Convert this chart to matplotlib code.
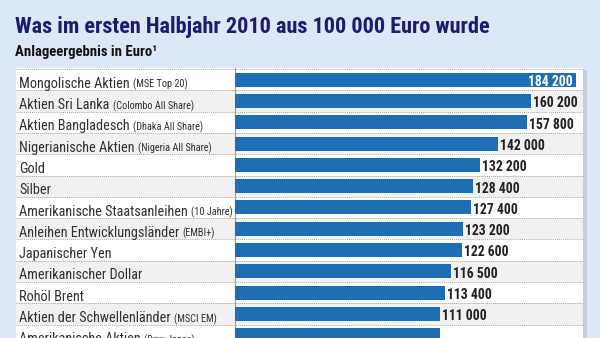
import matplotlib
matplotlib.use("Agg")
import matplotlib.pyplot as plt
from matplotlib.patches import Rectangle
from matplotlib.transforms import blended_transform_factory
from matplotlib import font_manager as fm

# ---- data ----
labels = [
    "Mongolische Aktien", "Aktien Sri Lanka", "Aktien Bangladesch",
    "Nigerianische Aktien", "Gold", "Silber",
    "Amerikanische Staatsanleihen", "Anleihen Entwicklungsländer",
    "Japanischer Yen", "Amerikanischer Dollar", "Rohöl Brent",
    "Aktien der Schwellenländer", "Amerikanische Aktien",
]
notes = [
    "(MSE Top 20)", "(Colombo All Share)", "(Dhaka All Share)",
    "(Nigeria All Share)", "", "",
    "(10 Jahre)", "(EMBI+)", "", "", "",
    "(MSCI EM)", "(Dow Jones)",
]
values = [184200, 160200, 157800, 142000, 132200, 128400, 127400,
          123200, 122600, 116500, 113400, 111000, 110700]
value_texts = ["184 200", "160 200", "157 800", "142 000", "132 200", "128 400",
               "127 400", "123 200", "122 600", "116 500", "113 400",
               "111 000", "110 700"]

title = "Was im ersten Halbjahr 2010 aus 100 000 Euro wurde"
subtitle = "Anlageergebnis in Euro¹"


# ---- pick a condensed font if available ----
def _stretch_val(s):
    m = {"ultra-condensed": 100, "extra-condensed": 200, "condensed": 300,
         "semi-condensed": 400, "normal": 500, "narrow": 300}
    if isinstance(s, str):
        return m.get(s, 500)
    return s


def _weight_val(w):
    m = {"ultralight": 100, "light": 300, "normal": 400, "regular": 400,
         "book": 400, "medium": 500, "roman": 400, "semibold": 600,
         "demibold": 600, "demi": 600, "bold": 700, "heavy": 800,
         "extra bold": 800, "black": 900}
    if isinstance(w, str):
        return m.get(w, 400)
    return w


def pick_condensed():
    cands = []
    for f in fm.fontManager.ttflist:
        if f.style != "normal":
            continue
        sv = _stretch_val(f.stretch)
        if sv < 500 or "Condensed" in f.name or "Narrow" in f.name:
            cands.append(f)
    if not cands:
        return None, None
    order = ["Liberation", "Roboto", "Open Sans", "Noto Sans", "Lato",
             "Inter", "DejaVu"]

    def fam_rank(f):
        for j, o in enumerate(order):
            if f.name.startswith(o):
                return j
        return len(order)

    def st_rank(f):
        sv = _stretch_val(f.stretch)
        return {300: 0, 400: 1, 200: 2}.get(sv, 3)

    cands.sort(key=lambda f: (fam_rank(f), st_rank(f)))
    best = cands[0]
    same = [f for f in cands if f.name == best.name
            and _stretch_val(f.stretch) == _stretch_val(best.stretch)]
    reg = min(same, key=lambda f: abs(_weight_val(f.weight) - 400))
    bold = min(same, key=lambda f: abs(_weight_val(f.weight) - 700))
    return reg.fname, bold.fname


reg_file, bold_file = pick_condensed()
if reg_file:
    FP_REG = fm.FontProperties(fname=reg_file)
    FP_BOLD = fm.FontProperties(fname=bold_file)
else:
    FP_REG = fm.FontProperties(family="Liberation Sans")
    FP_BOLD = fm.FontProperties(family="Liberation Sans", weight="bold")

BG = "#dde7f7"
BAR = "#1f6db3"
W, H = 600, 338

fig = plt.figure(figsize=(W / 100, H / 100), dpi=100, facecolor=BG)
renderer = fig.canvas.get_renderer()


def fitted(base, sample, target_px, size0=10.0):
    """Font size so that `sample` is about target_px wide."""
    p = base.copy()
    p.set_size(size0)
    t = fig.text(0, 0, sample, fontproperties=p)
    w = t.get_window_extent(renderer).width
    t.remove()
    p.set_size(size0 * target_px / w)
    return p


FP_TITLE = fitted(FP_BOLD, title, 475)
FP_SUB = fitted(FP_BOLD, subtitle, 142)
FP_LAB = fitted(FP_REG, "Amerikanische Staatsanleihen", 168)
FP_NOTE = fitted(FP_REG, "(Nigeria All Share)", 74)
FP_VAL = fitted(FP_BOLD, "132 200", 45)

# panel geometry in pixels
px_left, px_right, px_top = 16, 583, 68
px_zero = 235
k = 0.00185          # pixels per euro
row_h = 21.3

ax = fig.add_axes([px_left / W, 0, (px_right - px_left) / W, (H - px_top) / H])
ax.set_facecolor("white")
ax.set_xlim(-(px_zero - px_left) / k, (px_right - px_zero) / k)
top = -0.5 - 1 / row_h
ax.set_ylim(top + (H - px_top) / row_h, top)
for s in ax.spines.values():
    s.set_visible(False)
ax.set_xticks([])
ax.set_yticks([])

# shadow to the right of panel
fig.patches.append(Rectangle(((px_right) / W, 0), 4 / W, (H - px_top - 2) / H,
                             transform=fig.transFigure, facecolor="#c5cedb",
                             edgecolor="none", zorder=0))

n = len(values)
ys = list(range(n))
for i in ys:
    if i % 2 == 1:
        ax.axhspan(i - 0.5, i + 0.5, color="#f1f1f1", zorder=0, lw=0)
for i in range(-1, n):
    ax.axhline(i + 0.5, color="#a8a8a8", lw=0.7, ls=(0, (1, 1)), zorder=1)
ax.axvline(0, color="#9a9a9a", lw=0.8, zorder=1)

ax.barh(ys, values, height=0.66, color=BAR, zorder=2, left=0)

trans = blended_transform_factory(ax.transAxes, ax.transData)
x_lab = (19 - px_left) / (px_right - px_left)
for i, (lab, note) in enumerate(zip(labels, notes)):
    t = ax.text(x_lab, i + 0.38, lab, transform=trans, ha="left", va="baseline",
                fontproperties=FP_LAB, color="#303030", zorder=3)
    if note:
        ax.annotate(note, xy=(1, i + 0.38), xycoords=(t, "data"),
                    xytext=(2.5, 0), textcoords="offset points",
                    ha="left", va="baseline", fontproperties=FP_NOTE,
                    color="#303030", zorder=3)

for i, (v, vt) in enumerate(zip(values, value_texts)):
    if i == 0:
        ax.annotate(vt, xy=(v, i + 0.3), xytext=(-2, 0), textcoords="offset points",
                    ha="right", va="baseline", fontproperties=FP_VAL,
                    color="white", zorder=3)
    else:
        ax.annotate(vt, xy=(v, i + 0.3), xytext=(1.5, 0), textcoords="offset points",
                    ha="left", va="baseline", fontproperties=FP_VAL,
                    color="#222222", zorder=3)

fig.text(15 / W, 1 - 33 / H, title, ha="left", va="baseline",
         fontproperties=FP_TITLE, color="#1a1d6b")
fig.text(15 / W, 1 - 56 / H, subtitle, ha="left", va="baseline",
         fontproperties=FP_SUB, color="#111111")

fig.savefig("out.png", dpi=100, facecolor=BG)
